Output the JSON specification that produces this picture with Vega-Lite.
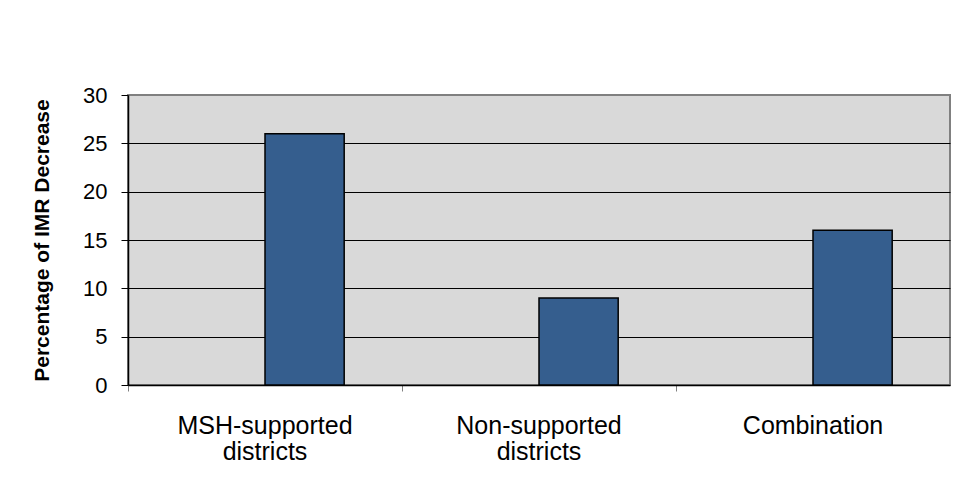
{
  "$schema": "https://vega.github.io/schema/vega-lite/v6.json",
  "width": 822,
  "height": 290,
  "autosize": {"type": "none"},
  "padding": {"left": 128, "top": 95, "right": 7, "bottom": 115},
  "background": "white",
  "config": {
    "font": "Liberation Sans",
    "view": {"fill": "#D9D9D9", "stroke": "#808080", "strokeWidth": 2}
  },
  "data": {
    "values": [
      {"category": "MSH-supported districts", "series": "IMR decrease", "value": 26},
      {"category": "Non-supported districts", "series": "IMR decrease", "value": 9},
      {"category": "Combination", "series": "IMR decrease", "value": 16}
    ]
  },
  "mark": {"type": "bar", "fill": "#355E8E", "stroke": "black", "strokeWidth": 1.5},
  "encoding": {
    "x": {
      "field": "category",
      "type": "nominal",
      "sort": null,
      "scale": {"paddingInner": 0, "paddingOuter": 0},
      "axis": {
        "title": null,
        "labelAngle": 0,
        "labelFontSize": 25,
        "labelColor": "black",
        "labelExpr": "split(datum.label, ' ')",
        "labelLineHeight": 26,
        "labelPadding": 22,
        "bandPosition": 0,
        "ticks": true,
        "tickSize": 6,
        "tickColor": "#808080",
        "domainColor": "black",
        "domainWidth": 1.5,
        "grid": false
      }
    },
    "xOffset": {
      "field": "series",
      "type": "nominal",
      "scale": {"domain": ["empty", "IMR decrease"], "paddingInner": 0, "paddingOuter": 0.73}
    },
    "y": {
      "field": "value",
      "type": "quantitative",
      "scale": {"domain": [0, 30], "nice": false},
      "axis": {
        "title": "Percentage of IMR Decrease",
        "titleFontSize": 21,
        "titleFontWeight": "bold",
        "titleColor": "black",
        "titlePadding": 30,
        "values": [0, 5, 10, 15, 20, 25, 30],
        "labelFontSize": 22,
        "labelColor": "black",
        "labelPadding": 14,
        "tickSize": 7,
        "tickColor": "black",
        "domainColor": "black",
        "domainWidth": 1.5,
        "grid": true,
        "gridColor": {"condition": {"test": "datum.value === 30 || datum.value === 0", "value": "#808080"}, "value": "black"},
        "gridOpacity": 1,
        "gridWidth": 1
      }
    }
  }
}
